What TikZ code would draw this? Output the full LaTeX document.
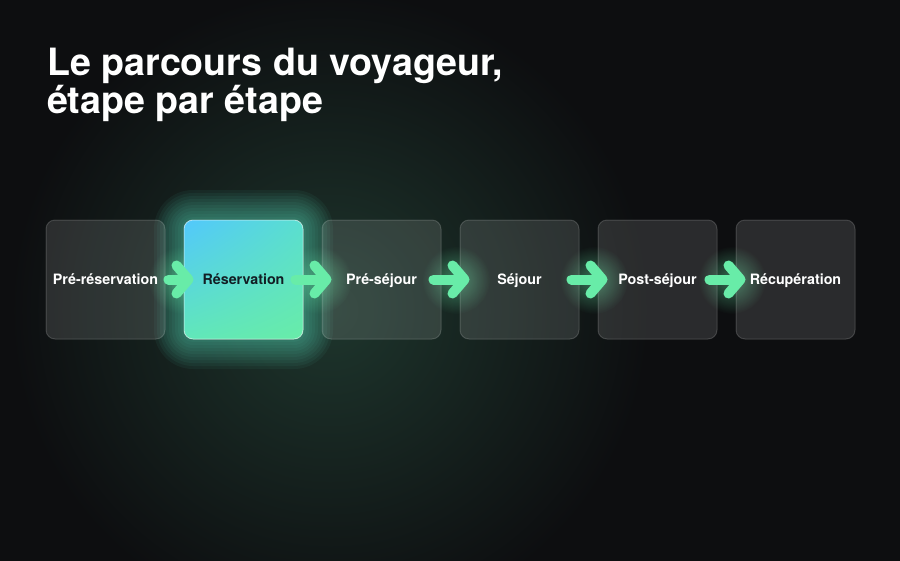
\documentclass[tikz,border=0pt]{standalone}
\usepackage{fontspec}
\setmainfont{TeX Gyre Heros}
\usetikzlibrary{arrows.meta,fadings,shadings}

\definecolor{bgdark}{RGB}{13,14,16}
\definecolor{bgglow}{RGB}{30,54,45}
\definecolor{mint}{RGB}{104,236,168}
\definecolor{skyblue}{RGB}{82,200,252}
\definecolor{halo}{RGB}{92,228,196}
\definecolor{inkdark}{RGB}{18,30,36}

\tikzfading[name=softglow, inner color=transparent!55, outer color=transparent!100]

\begin{document}
\begin{tikzpicture}[x=1pt,y=-1pt,
    stepbox/.style={draw=white, draw opacity=0.16, line width=1pt,
      fill=white, fill opacity=0.12, text opacity=1, text=white,
      rounded corners=9pt, minimum width=119pt, minimum height=119pt,
      inner sep=0pt, text depth=1pt, font=\bfseries\fontsize{14.3}{15}\selectfont},
    activebox/.style={stepbox, fill opacity=1, draw=white, draw opacity=0.4,
      text=inkdark},
    flow/.style={draw=mint, line width=10pt, line cap=round,
      -{Straight Barb[round,length=12pt,width=28pt]}},
    title/.style={anchor=base west, text=white, inner sep=0pt,
      font=\bfseries\fontsize{37.6}{38}\selectfont}
  ]
% Background and the soft green light
\useasboundingbox (0,0) rectangle (900,560);
\begin{scope}
  \clip (-5,-5) rectangle (905,565);
  \fill[bgdark] (-5,-5) rectangle (905,565);
  \shade[inner color=bgglow, outer color=bgdark] (330,310) circle (320);
\end{scope}

% Title
\node[title] (title) at (47,75) {Le parcours du voyageur,};
\node[title] (subtitle) at (47,113) {étape par étape};

% Halo behind the active step
\foreach \g [evaluate=\g as \r using 9+\g] in {30,27,...,3}
  \fill[halo, opacity=0.055, rounded corners=\r pt] (184-\g,220-\g) rectangle (303+\g,339+\g);

% Glow round the arrows
\foreach \x in {182,318,456,594,732}
  \fill[mint, path fading=softglow] (\x,280) circle (34);

% Steps
\node[stepbox] (prebook) at (105.5,279.5) {Pré-réservation};
\node[activebox, upper left=skyblue, lower left=halo!60!mint, upper right=halo!80!skyblue,
  lower right=mint] (book) at (243.5,279.5) {Réservation};
\node[stepbox] (prestay) at (381.5,279.5) {Pré-séjour};
\node[stepbox] (stay) at (519.5,279.5) {Séjour};
\node[stepbox] (poststay) at (657.5,279.5) {Post-séjour};
\node[stepbox] (recovery) at (795.5,279.5) {Récupération};

% Arrows
\draw[flow] ([xshift=3pt]prebook.east) -- ([xshift=10pt]book.west);
\draw[flow] ([xshift=-8pt]book.east) -- ([xshift=10pt]prestay.west);
\draw[flow] ([xshift=-8pt]prestay.east) -- ([xshift=10pt]stay.west);
\draw[flow] ([xshift=-8pt]stay.east) -- ([xshift=10pt]poststay.west);
\draw[flow] ([xshift=-8pt]poststay.east) -- ([xshift=10pt]recovery.west);
\end{tikzpicture}
\end{document}
